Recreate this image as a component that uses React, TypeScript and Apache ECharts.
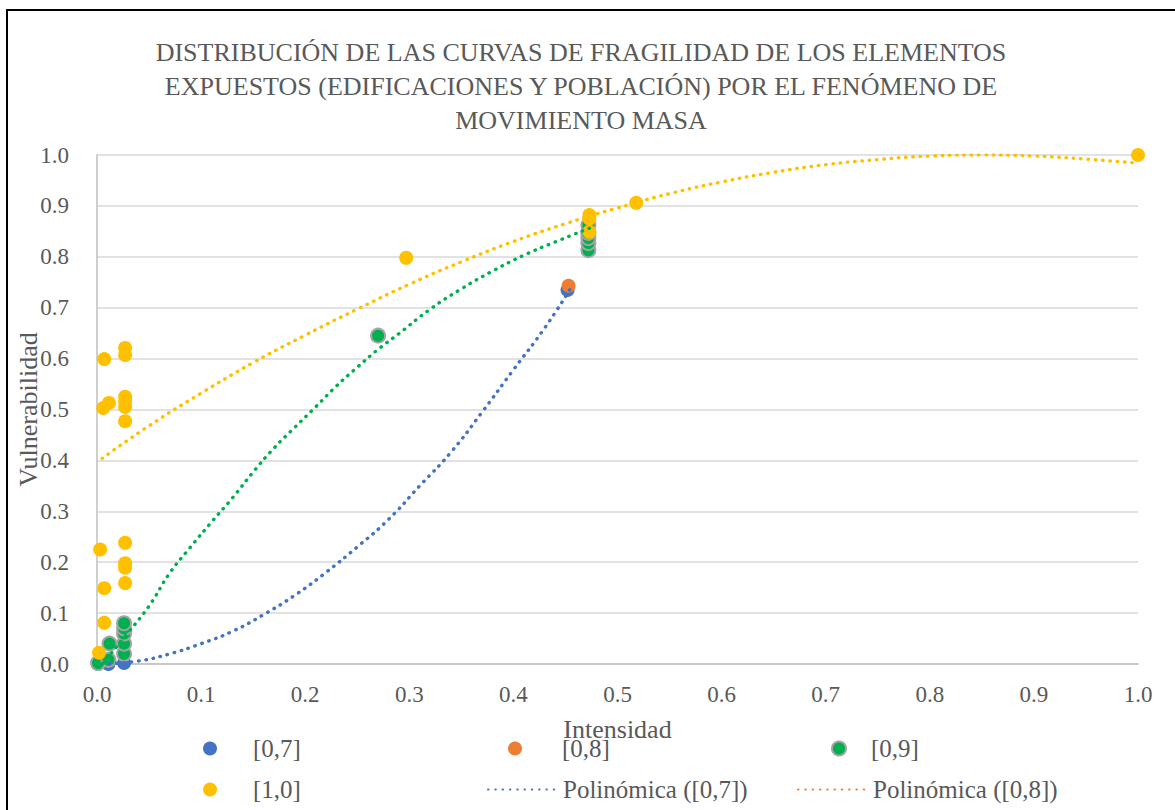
import React, { useEffect, useRef } from "react";
import * as echarts from "echarts";

const TITLE = "DISTRIBUCIÓN DE LAS CURVAS DE FRAGILIDAD DE LOS ELEMENTOS\nEXPUESTOS (EDIFICACIONES Y POBLACIÓN) POR EL FENÓMENO DE\nMOVIMIENTO MASA";

// Scatter series [x, y]
const s07: number[][] = [[0.001, 0.0], [0.011, 0.0], [0.026, 0.002], [0.452, 0.735]];
const s08: number[][] = [[0.453, 0.743]];
const s09: number[][] = [
  [0.001, 0.002], [0.011, 0.008], [0.012, 0.04],
  [0.026, 0.02], [0.026, 0.04], [0.026, 0.06], [0.026, 0.07], [0.026, 0.08],
  [0.27, 0.645],
  [0.472, 0.813], [0.472, 0.827], [0.472, 0.837], [0.472, 0.847], [0.472, 0.862],
];
const s10: number[][] = [
  [0.002, 0.022], [0.003, 0.225], [0.007, 0.081], [0.007, 0.149],
  [0.006, 0.503], [0.0115, 0.513], [0.007, 0.599],
  [0.027, 0.159], [0.027, 0.189], [0.027, 0.198], [0.027, 0.238],
  [0.027, 0.477], [0.027, 0.505], [0.027, 0.515], [0.027, 0.525], [0.027, 0.607], [0.027, 0.621],
  [0.297, 0.798],
  [0.473, 0.849], [0.473, 0.875], [0.473, 0.882],
  [0.518, 0.906],
  [1.0, 1.0],
];

// Trendlines
const trend07: number[][] = [
  [0.005, 0.0], [0.04, 0.006], [0.07, 0.02], [0.1, 0.04], [0.13, 0.064], [0.16, 0.097],
  [0.19, 0.135], [0.22, 0.18], [0.25, 0.23], [0.28, 0.284], [0.31, 0.35], [0.34, 0.416],
  [0.37, 0.495], [0.4, 0.578], [0.43, 0.66], [0.455, 0.738],
];
const trend09: number[][] = [
  [0.005, 0.0], [0.03, 0.062], [0.05, 0.114], [0.07, 0.179], [0.09, 0.23], [0.11, 0.279],
  [0.13, 0.326], [0.15, 0.377], [0.17, 0.424], [0.19, 0.465], [0.21, 0.505], [0.23, 0.546],
  [0.25, 0.583], [0.27, 0.618], [0.29, 0.649], [0.32, 0.697], [0.35, 0.737], [0.38, 0.772],
  [0.41, 0.803], [0.44, 0.829], [0.474, 0.857],
];
const trend10: number[][] = [
  [0.005, 0.404], [0.05, 0.468], [0.1, 0.532], [0.15, 0.592], [0.2, 0.646], [0.25, 0.697],
  [0.3, 0.746], [0.35, 0.79], [0.4, 0.83], [0.45, 0.865], [0.5, 0.896], [0.55, 0.924],
  [0.6, 0.947], [0.65, 0.966], [0.7, 0.981], [0.75, 0.991], [0.8, 0.998], [0.85, 1.0],
  [0.9, 0.998], [0.95, 0.992], [1.0, 0.984],
];

const BLUE = "#4472C4";
const ORANGE = "#ED7D31";
const GREEN = "#00B050";
const YELLOW = "#FFC000";
const GREY = "#A5A5A5";
const TEXT = "#595959";
const FONT = "Liberation Serif";

const dotted = (color: string) => ({
  color,
  width: 3.4,
  type: [0.5, 6.8] as any,
  cap: "round" as const,
});

export default function App() {
  const ref = useRef<HTMLDivElement>(null);
  useEffect(() => {
    if (!ref.current) return;
    const chart = echarts.init(ref.current, null, { renderer: "svg" });
    const legendText = { fontFamily: FONT, fontSize: 25, color: TEXT };
    const scatterLegend = (name: string, left: number, top: number, gap: number) => ({
      left,
      top,
      padding: 0,
      itemGap: 0,
      itemWidth: 14,
      itemHeight: 14,
      textStyle: { ...legendText, padding: [0, 0, 0, gap] },
      data: [name],
    });
    const lineLegend = (name: string, left: number, top: number) => ({
      left,
      top,
      padding: 0,
      itemGap: 0,
      itemWidth: 70,
      itemHeight: 14,
      textStyle: { ...legendText },
      data: [{ name, itemStyle: { opacity: 0 } }],
    });
    const scatterBase = (name: string, data: number[][], color: string, border?: string) => ({
      name,
      type: "scatter",
      data,
      symbol: "circle",
      symbolSize: 14,
      itemStyle: border
        ? { color, borderColor: border, borderWidth: 2, opacity: 1 }
        : { color, opacity: 1 },
    });
    const lineBase = (name: string, data: number[][], color: string) => ({
      name,
      type: "line",
      data,
      smooth: true,
      symbol: "none",
      showSymbol: false,
      lineStyle: dotted(color),
      itemStyle: { color },
      z: 5,
    });
    const row1 = 736;
    const row2 = 777;
    chart.setOption({
      animation: false,
      backgroundColor: "transparent",
      textStyle: { fontFamily: FONT, color: TEXT },
      title: {
        text: TITLE,
        left: 576,
        top: 30,
        textAlign: "center",
        textStyle: { fontFamily: FONT, fontSize: 26, fontWeight: "normal", color: TEXT, lineHeight: 34 },
      },
      grid: { left: 97, top: 155, width: 1041, height: 509, containLabel: false },
      xAxis: {
        type: "value",
        min: 0,
        max: 1,
        interval: 0.1,
        name: "Intensidad",
        nameLocation: "middle",
        nameGap: 52,
        nameMoveOverlap: false,
        nameTextStyle: { fontFamily: FONT, fontSize: 26, color: TEXT },
        axisLine: { show: true, lineStyle: { color: "#BFBFBF", width: 1.5 } },
        axisTick: { show: false },
        splitLine: { show: false },
        axisLabel: {
          margin: 19,
          fontFamily: FONT,
          fontSize: 23,
          color: TEXT,
          formatter: (v: number) => v.toFixed(1),
        },
      },
      yAxis: {
        type: "value",
        min: 0,
        max: 1,
        interval: 0.1,
        name: "Vulnerabilidad",
        nameLocation: "middle",
        nameGap: 56,
        nameMoveOverlap: false,
        nameTextStyle: { fontFamily: FONT, fontSize: 26, color: TEXT },
        axisLine: { show: true, lineStyle: { color: "#BFBFBF", width: 1.5 } },
        axisTick: { show: false },
        splitLine: { show: true, lineStyle: { color: "#D9D9D9", width: 1.5 } },
        axisLabel: {
          margin: 28,
          fontFamily: FONT,
          fontSize: 23,
          color: TEXT,
          formatter: (v: number) => v.toFixed(1),
        },
      },
      legend: [
        scatterLegend("[0,7]", 203, row1, 31),
        scatterLegend("[0,8]", 508, row1, 35),
        scatterLegend("[0,9]", 831, row1, 20),
        scatterLegend("[1,0]", 203, row2, 31),
        lineLegend("Polinómica ([0,7])", 487, row2),
        lineLegend("Polinómica ([0,8])", 797, row2),
      ],
      series: [
        scatterBase("[0,7]", s07, BLUE),
        scatterBase("[0,8]", s08, ORANGE),
        scatterBase("[0,9]", s09, GREEN, GREY),
        scatterBase("[1,0]", s10, YELLOW),
        lineBase("Polinómica ([0,7])", trend07, BLUE),
        lineBase("Polinómica ([0,8])", [], ORANGE),
        lineBase("Polinómica ([0,9])", trend09, GREEN),
        lineBase("Polinómica ([1,0])", trend10, YELLOW),
      ],
    });
    return () => chart.dispose();
  }, []);
  return (
    <div style={{ position: "fixed", left: 0, top: 0, width: 1175, height: 810, overflow: "hidden", background: "#fff" }}>
      <style>{`#root svg text, #root svg tspan { font-family: "Liberation Serif", serif !important; }`}</style>
      <div
        style={{
          position: "absolute",
          left: 6,
          top: 9,
          width: 1250,
          height: 900,
          borderLeft: "2px solid #000",
          borderTop: "2px solid #000",
        }}
      />
      <div ref={ref} style={{ position: "absolute", left: 0, top: 0, width: 1175, height: 810 }} />
    </div>
  );
}
